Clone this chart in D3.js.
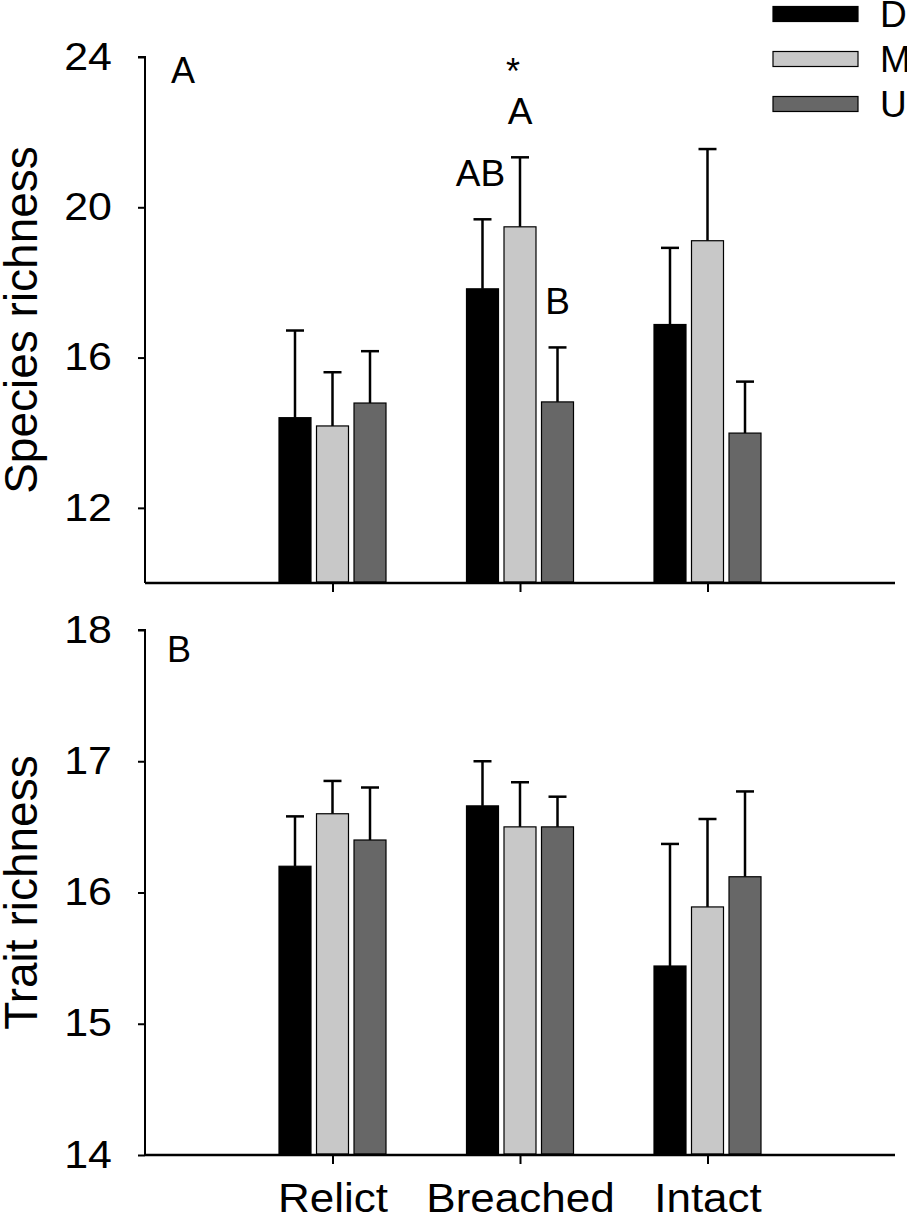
<!DOCTYPE html>
<html>
<head>
<meta charset="utf-8">
<script src="https://cdn.jsdelivr.net/npm/d3@7/dist/d3.min.js"></script>
<style>
  html, body { margin: 0; padding: 0; background: #fff; }
  svg { display: block; font-family: "Liberation Sans", Arial, sans-serif; }
</style>
</head>
<body>
<svg id="chart" width="907" height="1228"></svg>
<script>
// ---- data ----
const categories = ["Relict", "Breached", "Intact"];
const series = ["D", "M", "U"];
const seriesColors = ["#000000", "#c8c8c8", "#676767"];

const speciesMeanD = [14.40, 17.83, 16.88];
const speciesMeanM = [14.18, 19.48, 19.11];
const speciesMeanU = [14.79, 14.82, 13.99];
const speciesSED = [2.32, 1.85, 2.04];
const speciesSEM = [1.43, 1.85, 2.44];
const speciesSEU = [1.38, 1.45, 1.37];

const traitMeanD = [16.20, 16.66, 15.44];
const traitMeanM = [16.60, 16.50, 15.89];
const traitMeanU = [16.40, 16.50, 16.12];
const traitSED = [0.38, 0.34, 0.93];
const traitSEM = [0.25, 0.34, 0.67];
const traitSEU = [0.40, 0.23, 0.65];

const speciesTicks = [12, 16, 20, 24];
const traitTicks = [14, 15, 16, 17, 18];

const speciesLetters = [
  { category: "Breached", series: "D", label: "AB" },
  { category: "Breached", series: "M", label: "A" },
  { category: "Breached", series: "U", label: "B" }
];
const speciesStar = { category: "Breached", series: "M", label: "*" };

// ---- layout ----
const svg = d3.select("#chart");
const x = d3.scaleLinear().domain([0, 4]).range([145, 895]);
const catPos = d => x(categories.indexOf(d) + 1);
const sub = d3.scaleBand().domain(series).range([-53.5, 53.5]).paddingInner(0.147).paddingOuter(0);
const color = d3.scaleOrdinal().domain(series).range(seriesColors);
const tickStretch = 1.13;
const catStretch = 1.1;

function buildRows(means, ses) {
  const rows = [];
  categories.forEach((c, i) => {
    series.forEach((s, j) => {
      rows.push({ category: c, series: s, mean: means[j][i], se: ses[j][i] });
    });
  });
  return rows;
}

function panel(cfg) {
  const y = d3.scaleLinear().domain(cfg.domain).range([cfg.bottom, cfg.top]);
  const g = svg.append("g");
  const rows = buildRows(cfg.means, cfg.ses);

  // error bars (upper only)
  const eb = g.selectAll("g.eb").data(rows).join("g")
    .attr("transform", d => `translate(${catPos(d.category) + sub(d.series) + sub.bandwidth() / 2},0)`);
  eb.append("line")
    .attr("x1", 0).attr("x2", 0)
    .attr("y1", d => y(d.mean)).attr("y2", d => y(d.mean + d.se))
    .attr("stroke", "#000").attr("stroke-width", 2.5);
  eb.append("line")
    .attr("x1", -9).attr("x2", 9)
    .attr("y1", d => y(d.mean + d.se)).attr("y2", d => y(d.mean + d.se))
    .attr("stroke", "#000").attr("stroke-width", 2.5);

  // bars
  g.selectAll("rect.bar").data(rows).join("rect")
    .attr("class", "bar")
    .attr("x", d => catPos(d.category) + sub(d.series))
    .attr("width", sub.bandwidth())
    .attr("y", d => y(d.mean))
    .attr("height", d => y(cfg.domain[0]) - y(d.mean) - 1)
    .attr("fill", d => color(d.series))
    .attr("stroke", "#000").attr("stroke-width", 1.2);

  // y axis
  const ya = g.append("g").attr("transform", `translate(${x(0)},0)`)
    .call(d3.axisLeft(y).tickValues(cfg.ticks).tickSize(7).tickPadding(26).tickFormat(d3.format("d")));
  ya.select(".domain").attr("stroke-width", 2).attr("d", `M-7,${cfg.top}H0V${cfg.bottom}`);
  ya.selectAll(".tick line").attr("stroke-width", 2);
  ya.selectAll("text").attr("font-size", 38).attr("fill", "#000")
    .attr("font-family", "Liberation Sans, Arial, sans-serif")
    .attr("x", -33 / tickStretch)
    .attr("transform", `scale(${tickStretch},1)`);

  // x axis
  const xa = g.append("g").attr("transform", `translate(0,${cfg.bottom})`)
    .call(d3.axisBottom(x).tickValues([1, 2, 3]).tickSize(9).tickPadding(20)
      .tickFormat(d => cfg.showCats ? categories[d - 1] : ""));
  xa.select(".domain").attr("stroke-width", 2.5).attr("d", `M${x(0)},0H${x(4)}`);
  xa.selectAll(".tick line").attr("stroke-width", 2);
  xa.selectAll("text").attr("font-size", 40).attr("fill", "#000")
    .attr("font-family", "Liberation Sans, Arial, sans-serif")
    .attr("transform", `scale(${catStretch},1)`);

  // y title
  g.append("text")
    .attr("transform", `translate(37,${(cfg.top + cfg.bottom) / 2}) rotate(-90)`)
    .attr("text-anchor", "middle")
    .attr("font-size", 46)
    .text(cfg.title);

  // panel letter
  g.append("text").attr("x", cfg.letterX).attr("y", cfg.letterY)
    .attr("font-size", 36).text(cfg.letter);

  return { g, y };
}

const topPanel = panel({
  domain: [10, 24], top: 57, bottom: 583,
  means: [speciesMeanD, speciesMeanM, speciesMeanU],
  ses: [speciesSED, speciesSEM, speciesSEU],
  ticks: speciesTicks, title: "Species richness",
  letter: "A", letterX: 171, letterY: 83, showCats: false
});

const bottomPanel = panel({
  domain: [14, 18], top: 630, bottom: 1155,
  means: [traitMeanD, traitMeanM, traitMeanU],
  ses: [traitSED, traitSEM, traitSEU],
  ticks: traitTicks, title: "Trait richness",
  letter: "B", letterX: 167, letterY: 662, showCats: true
});

// significance letters (top panel)
function errTop(cat, s) {
  const i = categories.indexOf(cat);
  const means = { D: speciesMeanD, M: speciesMeanM, U: speciesMeanU }[s];
  const ses = { D: speciesSED, M: speciesSEM, U: speciesSEU }[s];
  return means[i] + ses[i];
}
topPanel.g.selectAll("text.sig").data(speciesLetters).join("text")
  .attr("class", "sig")
  .attr("x", d => catPos(d.category) + sub(d.series) + sub.bandwidth() / 2 + (d.label === "AB" ? -2 : 0))
  .attr("y", d => topPanel.y(errTop(d.category, d.series)) - 33)
  .attr("text-anchor", "middle")
  .attr("font-size", 37)
  .text(d => d.label);
topPanel.g.append("text")
  .attr("x", catPos(speciesStar.category) + sub(speciesStar.series) + sub.bandwidth() / 2 - 7)
  .attr("y", topPanel.y(errTop(speciesStar.category, speciesStar.series)) - 73)
  .attr("text-anchor", "middle")
  .attr("font-size", 36)
  .text(speciesStar.label);

// legend
const legend = svg.append("g");
const legendY = d3.scalePoint().domain(series).range([14, 104]);
legend.selectAll("rect").data(series).join("rect")
  .attr("x", 773).attr("width", 85)
  .attr("y", d => legendY(d) - 7.5).attr("height", 15)
  .attr("fill", d => color(d))
  .attr("stroke", "#000").attr("stroke-width", 1.2);
legend.selectAll("text").data(series).join("text")
  .attr("x", 880).attr("y", d => legendY(d) + 13)
  .attr("font-size", 37)
  .text(d => d);
</script>
</body>
</html>
